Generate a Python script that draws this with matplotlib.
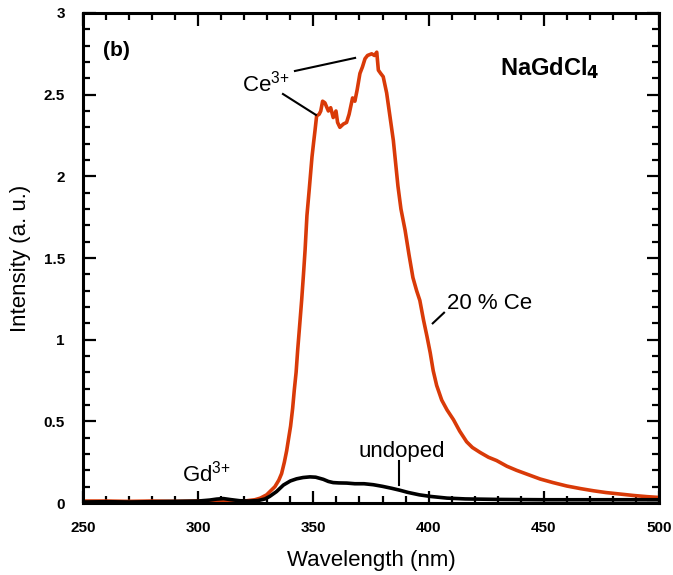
import matplotlib.pyplot as plt
from matplotlib.ticker import MultipleLocator

plt.rcParams['font.family'] = ['Liberation Sans', 'DejaVu Sans']
plt.rcParams['mathtext.default'] = 'regular'

# 20 % Ce doped sample
ce_wl = [250, 260, 270, 280, 290, 300, 310, 315, 320, 324.6, 327, 329.7, 331.5,
         333.3, 335, 336.2, 337.4, 338.4, 339.3, 340.1, 341, 341.7, 342.5, 343.2,
         344, 344.9, 345.7, 346.4, 347.2, 348.2, 349.4, 350.2, 350.7, 351.4, 352.5,
         353.2, 354, 355, 356.5, 357.5, 358.6, 359.8, 360.5, 361.5, 363, 364.4,
         365.5, 367, 368, 369, 370.2, 371.3, 372.4, 373.5, 375.3, 376.5, 377.5,
         378.2, 379.2, 380.3, 381.8, 383, 384.7, 385.7, 386.7, 388, 389.8, 391.5,
         393.2, 394.8, 396.2, 397.8, 399.3, 400.7, 402, 403.5, 405.7, 408, 410.8,
         413.5, 416.5, 419, 422.3, 426, 429.5, 434, 438.2, 443, 448.4, 454, 460,
         466, 471.5, 477, 483, 489, 494.7, 500]
ce_int = [0.012, 0.012, 0.010, 0.012, 0.010, 0.012, 0.012, 0.010, 0.012, 0.02,
          0.03, 0.05, 0.075, 0.10, 0.14, 0.18, 0.25, 0.32, 0.40, 0.47, 0.58, 0.69,
          0.80, 0.94, 1.08, 1.24, 1.40, 1.55, 1.76, 1.92, 2.12, 2.22, 2.28, 2.37,
          2.38, 2.40, 2.46, 2.45, 2.40, 2.42, 2.36, 2.40, 2.33, 2.30, 2.32, 2.33,
          2.38, 2.48, 2.46, 2.53, 2.63, 2.67, 2.72, 2.74, 2.75, 2.74, 2.76, 2.65,
          2.63, 2.61, 2.51, 2.39, 2.22, 2.08, 1.94, 1.80, 1.67, 1.52, 1.38, 1.30,
          1.24, 1.12, 1.02, 0.92, 0.81, 0.72, 0.63, 0.57, 0.51, 0.44, 0.375, 0.34,
          0.31, 0.28, 0.26, 0.225, 0.20, 0.175, 0.147, 0.125, 0.104, 0.088, 0.075,
          0.064, 0.055, 0.046, 0.039, 0.034]

# undoped sample
un_wl = [250, 260, 270, 280, 290, 300, 305, 308, 311, 314, 318, 322, 326, 329,
         331, 334, 337, 340, 342.7, 345.5, 348.5, 351, 354.3, 356.5, 358.6, 361,
         364.5, 368, 372, 376, 380, 384, 387.6, 391, 396, 401, 408, 416, 430, 450,
         470, 500]
un_int = [0.006, 0.008, 0.006, 0.008, 0.010, 0.012, 0.018, 0.024, 0.027, 0.021,
          0.014, 0.012, 0.015, 0.025, 0.04, 0.07, 0.11, 0.135, 0.148, 0.156,
          0.160, 0.158, 0.145, 0.132, 0.125, 0.123, 0.122, 0.118, 0.118, 0.112,
          0.102, 0.09, 0.078, 0.065, 0.05, 0.04, 0.03, 0.025, 0.022, 0.02, 0.02,
          0.02]

red = '#d93a08'

fig = plt.figure(figsize=(6.73, 5.75), dpi=100)
ax = fig.add_axes([0.1233, 0.1252, 0.8559, 0.8522])

ax.plot(ce_wl, ce_int, color=red, lw=2.6)
ax.plot(un_wl, un_int, color='black', lw=2.6)

ax.set_xlim(250, 500)
ax.set_ylim(0, 3)
ax.xaxis.set_major_locator(MultipleLocator(50))
ax.xaxis.set_minor_locator(MultipleLocator(10))
ax.yaxis.set_major_locator(MultipleLocator(0.5))
ax.yaxis.set_minor_locator(MultipleLocator(0.1))
ax.set_xticks([250, 300, 350, 400, 450, 500])
ax.set_xticklabels(['250', '300', '350', '400', '450', '500'])
ax.set_yticks([0, 0.5, 1, 1.5, 2, 2.5, 3])
ax.set_yticklabels(['0', '0.5', '1', '1.5', '2', '2.5', '3'])

ax.tick_params(which='both', direction='in', top=True, right=True, width=1.6)
ax.tick_params(which='major', length=9, labelsize=11, pad=13)
ax.tick_params(which='minor', length=5)
for lab in ax.get_xticklabels() + ax.get_yticklabels():
    lab.set_fontweight('bold')
for s in ax.spines.values():
    s.set_linewidth(2.2)

ax.set_xlabel('Wavelength (nm)', fontsize=16, labelpad=11)
ax.set_ylabel('Intensity (a. u.)', fontsize=16, labelpad=9)

ax.text(258.7, 2.77, '(b)', fontsize=15, fontweight='bold', va='center')
ax.text(431, 2.62, 'NaGdCl$_{\\mathbf{4}}$', fontsize=17, fontweight='bold',
        va='baseline')
ax.text(319, 2.52, 'Ce$^{3{+}}$', fontsize=16, va='baseline')
ax.plot([342.0, 368.1], [2.645, 2.725], color='black', lw=1.5)
ax.plot([336.8, 351.1], [2.504, 2.376], color='black', lw=1.5)
ax.text(408, 1.19, '20 % Ce', fontsize=16, va='baseline')
ax.plot([401.8, 406.7], [1.10, 1.165], color='black', lw=1.5)
ax.text(369.4, 0.283, 'undoped', fontsize=16, va='baseline')
ax.plot([387.3, 387.3], [0.259, 0.110], color='black', lw=1.5)
ax.text(292.8, 0.13, 'Gd$^{3{+}}$', fontsize=16, va='baseline')

fig.savefig('out.png', dpi=100)
